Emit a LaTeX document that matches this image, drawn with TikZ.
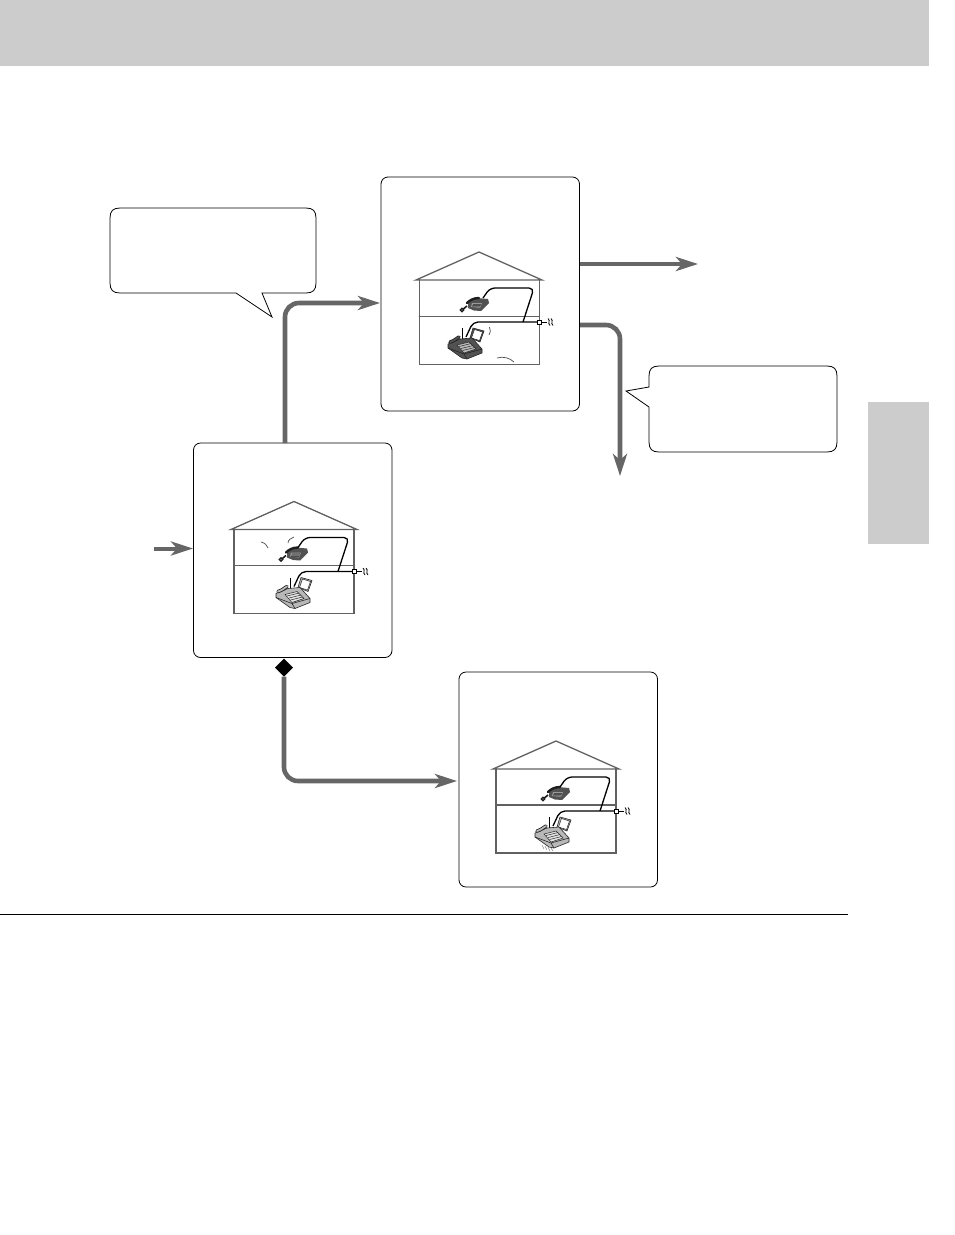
\documentclass[tikz,border=0pt]{standalone}
\usetikzlibrary{arrows.meta,shapes.geometric}
\definecolor{headgrey}{gray}{0.8}
\definecolor{flowgrey}{gray}{0.4}
\tikzset{
  x=1pt,y=-1pt,
  panel/.style={draw=black,line width=0.8pt,fill=white,rounded corners=7pt,minimum width=198.5pt,inner sep=0pt,outer sep=0pt},
  band/.style={fill=headgrey,draw=none,inner sep=0pt,outer sep=0pt},
  bubble/.style={draw=black,line width=0.8pt,fill=white},
  flow/.style={draw=flowgrey,line width=4.6pt,rounded corners=14pt,-{Stealth[length=22pt,width=14pt,inset=6pt]}},
  wall/.style={draw=black!62,line cap=round},
  wire/.style={draw=black,line width=1.3pt,rounded corners=5pt},
  ring/.style={draw=black!70,line width=0.7pt},
}
% \housepic{apex x}{apex y}{fax dx}{body fill}{floor width}{phone dx}
\newcommand{\housepic}[6]{%
\begin{scope}[shift={(#1,#2)}]
  \draw[wall,line width=1.3pt] (-63,28) -- (0,0) -- (63,28) -- cycle;
  \fill[white] (-59,29) rectangle (59,111);
  \draw[wall,line width=#5pt] (-60,28) -- (-60,112) -- (60,112) -- (60,28);
  \draw[wall,line width=#5pt] (-60,64) -- (60,64);
  % telephone
  \begin{scope}[shift={(#6,52)}]
    \fill[black!68] (-8,-3) -- (1,-6) -- (12,-5) -- (13,-1) -- (5,7) -- (-2,6.5) -- (-8,4) -- cycle;
    \fill[black!40] (-4,-1) -- (6,-1) -- (4,4) -- (-5,3) -- cycle;
    \draw[black!85,line width=0.5pt] (-3,0.3) -- (5,0.3) (-3.6,1.6) -- (4.6,1.6) (-4,2.8) -- (4,3);
    \draw[black!88,line width=2.4pt,line cap=round] (-9,-1) .. controls (-6,-4) and (-2,-6) .. (3,-6);
    \draw[black!88,line width=1.6pt] (-9,2) .. controls (-11,3) and (-12,5) .. (-13,5.5);
    \draw[black!88,line width=1.3pt,fill=black!40] (-14,6) circle (1.8);
  \end{scope}
  % fax
  \begin{scope}[shift={(#3,94)}]
    \draw[black!85,line width=0.6pt,fill=#4] (8,-18) -- (19,-15) -- (15,-4) -- (5,-8) -- cycle;
    \draw[black!85,line width=0.5pt,fill=white] (9.5,-16.5) -- (17.5,-14) -- (14.5,-5.5) -- (6.5,-8) -- cycle;
    \draw[black,line width=0.8pt] (-3,-18) -- (-3,-7);
    \draw[black!85,line width=0.6pt,fill=#4] (-17,-2) -- (-5,-7) -- (7,-8) -- (17,3) -- (17,7) -- (2,13) -- (-3,12) -- (-17,2) -- cycle;
    \draw[black!85,line width=0.5pt,fill=white!60!#4] (-8,-1) -- (4,-4) -- (11,3) -- (-1,7) -- cycle;
    \draw[black!85,line width=0.5pt] (-6,0.5) -- (6,-2.5) (-4,2.5) -- (8,-0.5) (-2.5,4.5) -- (9.5,1.5);
    \draw[black!85,line width=0.6pt] (-17,2) -- (-1,8) -- (2,13) (-1,8) -- (17,3);
    \draw[black!88,line width=3.4pt,line cap=round] (-15,-4) .. controls (-11,-5) and (-8,-8) .. (-6,-9);
    \draw[#4,line width=1.8pt,line cap=round] (-15,-4) .. controls (-11,-5) and (-8,-8) .. (-6,-9);
  \end{scope}
  % wiring
  \draw[wire] (60,70) -- (#3+8,70) -- (#3+1,85);
  \draw[wire] (44,70) -- (55,36) -- (11,36) -- (4,46);
  \draw[black,line width=0.9pt] (60,70) -- (68,70);
  \draw[black,line width=0.8pt] (69,66.5) .. controls (72,69) and (68,71) .. (71,73.5);
  \draw[black,line width=0.8pt] (72,66.5) .. controls (75,69) and (71,71) .. (74,73.5);
  \node[draw=black,fill=white,line width=0.8pt,minimum size=4pt,inner sep=0pt] (jack#1) at (60,70) {};
\end{scope}}
\begin{document}
\begin{tikzpicture}
\useasboundingbox (0,0) rectangle (954,1235);
\fill[white] (0,0) rectangle (954,1235);
\node[band,minimum width=929pt,minimum height=66pt,anchor=north west] (header) at (0,0) {};
\node[band,minimum width=61pt,minimum height=142pt,anchor=north west] (sidetab) at (868,402) {};
\coordinate (ruleL) at (0,914);
\coordinate (ruleR) at (848,914);
\draw[black,line width=0.8pt] (ruleL) -- (ruleR);

% panels
\node[panel,minimum height=234pt,anchor=north west] (boxA) at (381,177) {};
\node[panel,minimum height=214.5pt,anchor=north west] (boxB) at (193.5,443) {};
\node[panel,minimum height=215pt,anchor=north west] (boxC) at (459,672) {};

% speech bubbles
\draw[bubble] (236,293) -- (272,317) -- (262,293) -- (306,293) .. controls (313,293) and (316,290) .. (316,283) -- (316,218) .. controls (316,211) and (313,208) .. (306,208) -- (120,208) .. controls (113,208) and (110,211) .. (110,218) -- (110,283) .. controls (110,290) and (113,293) .. (120,293) -- cycle;
\draw[bubble] (649,387) -- (626,391) -- (649,407) -- (649,442) .. controls (649,449) and (652,452) .. (659,452) -- (827,452) .. controls (834,452) and (837,449) .. (837,442) -- (837,376) .. controls (837,369) and (834,366) .. (827,366) -- (659,366) .. controls (652,366) and (649,369) .. (649,376) -- cycle;

% houses
\housepic{479}{252}{-14}{black!68}{1.0}{-3}
\housepic{294}{501.5}{-1}{black!28}{1.7}{1}
\housepic{556}{741}{-4}{black!28}{1.7}{1}

% paper leaving the third fax
\draw[black!45,line width=0.6pt] (542,845) -- (544,849) (545,846) -- (547,850) (548,847) -- (550,851) (551,848) -- (553,851);

% ringing marks
\draw[ring] (489.5,327) .. controls (491,330) and (490.5,333) .. (489,335);
\draw[ring] (497,358) .. controls (503,356) and (510,358) .. (514,362);
\draw[ring] (261,542) .. controls (265,543) and (267,545) .. (268,548);
\draw[ring] (288,543) .. controls (288,540) and (291,538) .. (294,537);

% connectors
\coordinate (bTop) at (285,443);
\coordinate (aIn) at (380,303);
\coordinate (aOutA) at (580,264);
\coordinate (aOutAEnd) at (698,264);
\coordinate (aOutB) at (580,325);
\coordinate (aOutBEnd) at (620,476);
\coordinate (entry) at (154,548.5);
\coordinate (bIn) at (193,548.5);
\coordinate (cIn) at (457,781);
\node[diamond,fill=black,minimum width=18pt,minimum height=18pt,inner sep=0pt,outer sep=0pt] (dec) at (284,667.5) {};

\draw[flow] (bTop) |- (aIn);
\draw[flow] (aOutA) -- (aOutAEnd);
\draw[flow] (aOutB) -| (aOutBEnd);
\draw[flow,line width=4pt] (entry) -- (bIn);
\draw[flow] (dec.south) |- (cIn);
\end{tikzpicture}
\end{document}
